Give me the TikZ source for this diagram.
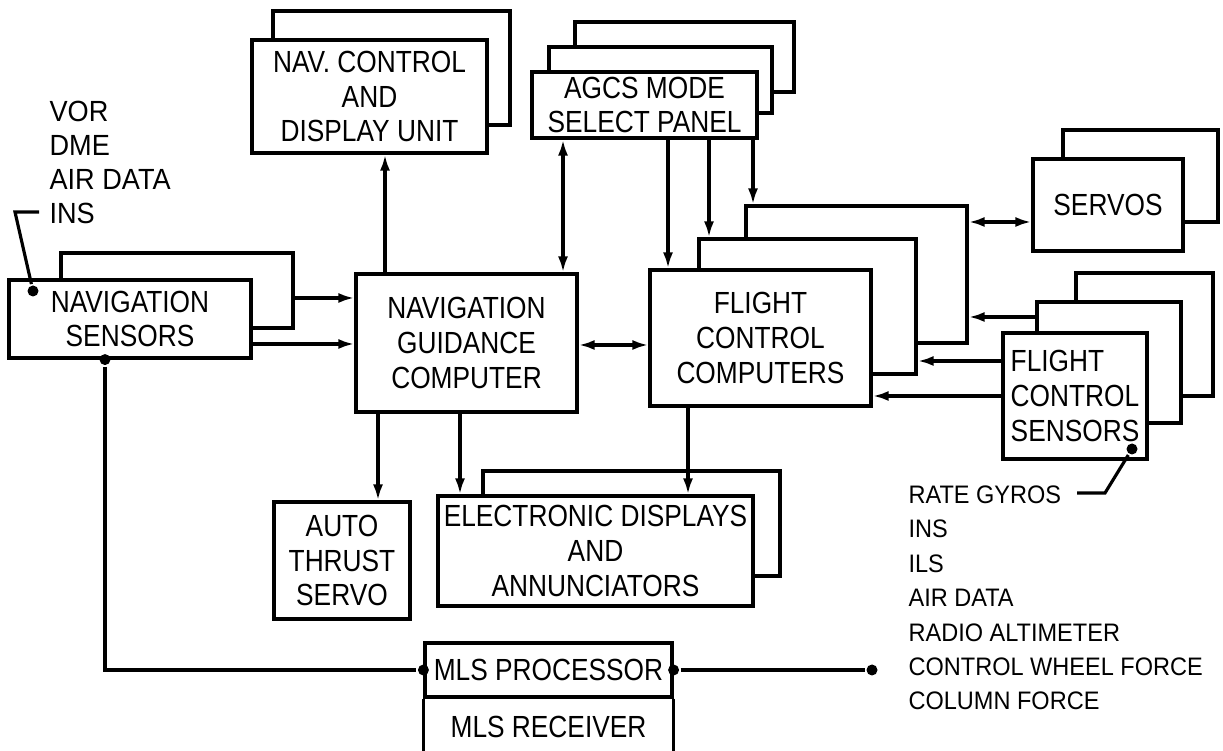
\documentclass[tikz,border=0pt]{standalone}
\usepackage{fontspec}
\newfontfamily\boxfont[FakeStretch=0.86]{Liberation Sans}
\newfontfamily\listfont[FakeStretch=0.93]{Liberation Sans}
\usetikzlibrary{arrows.meta,positioning}

\begin{document}
\begin{tikzpicture}[x=0.1mm,y=-0.1mm,line width=0.9pt,
  box/.style={draw,fill=white,inner sep=1pt,align=center,font=\boxfont\fontsize{8.7}{9.9}\selectfont},
  sz/.style 2 args={minimum width=#1*0.1mm,minimum height=#2*0.1mm},
  dot/.style={circle,fill,inner sep=0pt,minimum size=1.1mm},
  arr/.style={-{Latex[length=1.6mm,width=1mm]}},
  darr/.style={{Latex[length=1.6mm,width=1mm]}-{Latex[length=1.6mm,width=1mm]}},
  lst/.style={align=left,inner sep=0pt,anchor=north west}]
\useasboundingbox (0,0) rectangle (1223,751);
\node[box,sz={232}{75}] (nsb) at (177,290.5) {};
\node[box,sz={242}{78}] (nsf) at (130,319) {NAVIGATION\\SENSORS};
\node[box,sz={237}{114}] (ncdb) at (391.5,68) {};
\node[box,sz={235}{113}] (ncdf) at (369.5,96.5) {NAV. CONTROL\\AND\\DISPLAY UNIT};
\node[box,sz={219}{70}] (agcsb2) at (684.5,57) {};
\node[box,sz={223}{66}] (agcsb1) at (660.5,80) {};
\node[box,sz={225}{66}] (agcsf) at (644.5,105) {AGCS MODE\\SELECT PANEL};
\node[box,sz={221}{138}] (ngc) at (466.5,343) {NAVIGATION\\GUIDANCE\\COMPUTER};
\node[box,sz={221}{137}] (fccb2) at (856.5,274.5) {};
\node[box,sz={217}{135}] (fccb1) at (807.5,306.5) {};
\node[box,sz={221}{136}] (fccf) at (760.5,338) {FLIGHT\\CONTROL\\COMPUTERS};
\node[box,sz={155}{92}] (servob) at (1140.5,176) {};
\node[box,sz={150}{92}] (servof) at (1108,205) {SERVOS};
\node[box,sz={137}{123}] (fcsb2) at (1144.5,334.5) {};
\node[box,sz={144}{121}] (fcsb1) at (1109,362.5) {};
\node[box,sz={144}{126},align=left] (fcsf) at (1075,396) {FLIGHT\\CONTROL\\SENSORS};
\node[box,sz={136}{117}] (auto) at (342,560.5) {AUTO\\THRUST\\SERVO};
\node[box,sz={297}{105}] (edb) at (631.5,523.5) {};
\node[box,sz={315}{110}] (edf) at (595.5,551) {ELECTRONIC DISPLAYS\\AND\\ANNUNCIATORS};
\node[box,sz={247}{54}] (mlsp) at (548.5,670) {MLS PROCESSOR};
\node[box,draw=none,fill=none,sz={247}{54},below=0pt of mlsp] (mlsr) {MLS RECEIVER};
\draw (mlsr.south west) -- (mlsr.north west) (mlsr.north east) -- (mlsr.south east);
\node[lst,font=\listfont\fontsize{8.3}{9.7}\selectfont] (navlist) at (48,99.5) {VOR\\DME\\AIR DATA\\INS};
\node[lst,font=\listfont\fontsize{7.2}{9.8}\selectfont] (fcslist) at (907,484) {RATE GYROS\\INS\\ILS\\AIR DATA\\RADIO ALTIMETER\\CONTROL WHEEL FORCE\\COLUMN FORCE};
\node[dot] (nsdot) at (33,291) {};
\coordinate (insend) at (39,212);
\draw (nsdot) -- (15,212) -- (insend);
\node[dot] (fcsdot) at (1132,449) {};
\coordinate (rgend) at (1077,493);
\draw (fcsdot) -- (1105,493) -- (rgend);
\node[dot] (nsbot) at (nsf.south -| 105,0) {};
\node[dot] (mlsin) at (mlsp.west) {};
\node[dot] (mlsout) at (mlsp.east) {};
\node[dot] (fcsout) at (mlsp.east -| 872,0) {};
\draw (nsbot) |- (mlsin);
\draw (mlsout) -- (fcsout);
\draw[arr] (nsb.east |- 0,298) -- (ngc.west |- 0,298);
\draw[arr] (nsf.east |- 0,344) -- (ngc.west |- 0,344);
\draw[arr] (ngc.north -| 385,0) -- (ncdf.south -| 385,0);
\draw[darr] (agcsf.south -| 563,0) -- (ngc.north -| 563,0);
\draw[arr] (agcsf.south -| 668,0) -- (fccf.north -| 668,0);
\draw[arr] (agcsf.south -| 709,0) -- (fccb1.north -| 709,0);
\draw[arr] (agcsf.south -| 753,0) -- (fccb2.north -| 753,0);
\draw[darr] (ngc.east |- 0,345) -- (fccf.west |- 0,345);
\draw[darr] (fccb2.east |- 0,222) -- (servof.west |- 0,222);
\draw[arr] (fcsb1.west |- 0,317) -- (fccb2.east |- 0,317);
\draw[arr] (fcsf.west |- 0,361) -- (fccb1.east |- 0,361);
\draw[arr] (fcsf.west |- 0,396) -- (fccf.east |- 0,396);
\draw[arr] (ngc.south -| 378,0) -- (auto.north -| 378,0);
\draw[arr] (ngc.south -| 460,0) -- (edf.north -| 460,0);
\draw[arr] (fccf.south -| 688,0) -- (edf.north -| 688,0);
\end{tikzpicture}
\end{document}
